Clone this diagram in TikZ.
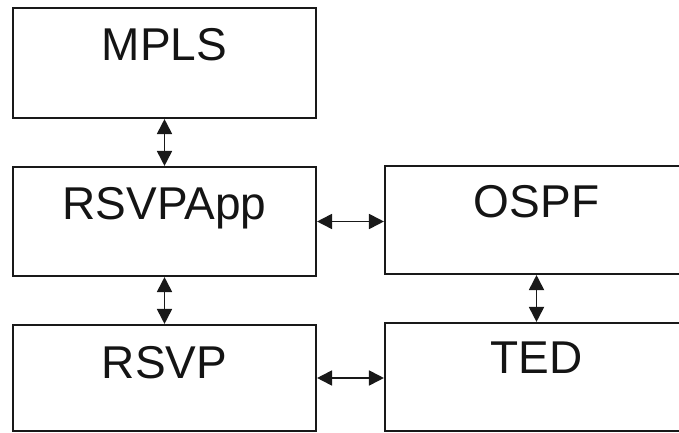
\documentclass[tikz,border=0pt]{standalone}
\usepackage{fontspec}
\setmainfont{Liberation Sans}
\usetikzlibrary{arrows.meta}
\begin{document}
\begin{tikzpicture}[x=1pt,y=1pt,
  box/.style={draw=black!90, line width=2.1pt, rectangle, inner sep=0pt,
              minimum width=303pt},
  lbl/.style={inner sep=0pt, anchor=north, text=black!92,
              font=\fontsize{46}{50}\selectfont},
  link/.style={draw=black!90, line width=1.8pt,
               {Triangle[length=15pt,width=15pt]}-{Triangle[length=15pt,width=15pt]}}]
\useasboundingbox (0,0) rectangle (679,433);
\clip (0,0) rectangle (679,433);

% protocol blocks
\node[box, minimum height=110pt] (mpls)    at (164.5,370)   {};
\node[box, minimum height=109pt] (rsvpapp) at (164.5,211.5) {};
\node[box, minimum height=106pt] (rsvp)    at (164.5,55)    {};
\node[box, minimum height=108pt] (ospf)    at (536.5,213)   {};
\node[box, minimum height=108pt] (ted)     at (536.5,56)    {};

% block titles
\node[lbl] (tmpls)    at ([yshift=-21pt]mpls.north)    {MPLS};
\node[lbl] (trsvpapp) at ([yshift=-21pt]rsvpapp.north) {RSVPApp};
\node[lbl] (trsvp)    at ([yshift=-22pt]rsvp.north)    {RSVP};
\node[lbl] (tospf)    at ([yshift=-20pt]ospf.north)    {OSPF};
\node[lbl] (tted)     at ([yshift=-20pt]ted.north)     {TED};

% interactions
\draw[link] (mpls.south) -- (rsvpapp.north);
\draw[link] (rsvpapp.south) -- (rsvp.north);
\draw[link] (ospf.south) -- (ted.north);
\draw[link] (rsvpapp.east) -- (rsvpapp.east -| ospf.west);
\draw[link] (rsvp.east) -- (rsvp.east -| ted.west);
\end{tikzpicture}
\end{document}
